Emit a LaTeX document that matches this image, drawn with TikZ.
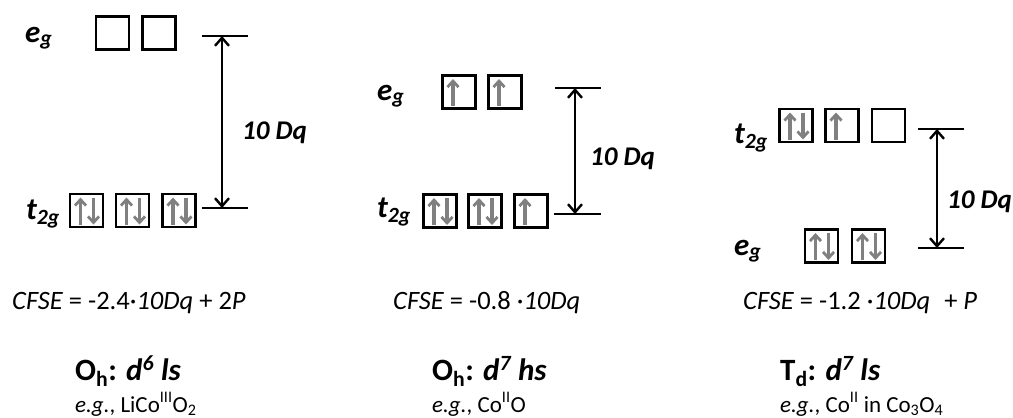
\documentclass[tikz,border=0pt]{standalone}
\usepackage{fontspec}
\setmainfont{Carlito}
\usetikzlibrary{arrows.meta}
\definecolor{spingray}{RGB}{128,128,128}
\newcommand{\fs}[1]{\fontsize{#1}{#1}\selectfont}
\tikzset{
  orbbox/.style={draw=black, line width=2.6pt, minimum width=33pt, minimum height=33pt, inner sep=0pt},
  spin/.style={draw=spingray, line width=3.4pt, -{Straight Barb[length=6pt,width=11pt,line width=2.8pt]}},
  level/.style={draw=black, line width=2.5pt},
  gap/.style={draw=black, line width=2.4pt, {Straight Barb[length=8pt,width=14pt,line width=2.4pt]}-{Straight Barb[length=8pt,width=14pt,line width=2.4pt]}},
  lvllabel/.style={anchor=base west, inner sep=0pt, font=\fs{31}\bfseries\itshape},
  dqlabel/.style={anchor=base west, inner sep=0pt, font=\fs{27}\bfseries\itshape},
  cfse/.style={anchor=base west, inner sep=0pt, font=\fs{26.5}},
  title/.style={anchor=base west, inner sep=0pt, font=\fs{31}\bfseries},
  example/.style={anchor=base west, inner sep=0pt, font=\fs{23}},
}
% \orbital{name}{x}{y}{electrons 0/1/2}
\newcommand{\orbital}[4]{%
  \node[orbbox] (#1) at (#2,#3) {};
  \ifnum#4=1
    \draw[spin] ([xshift=-6pt,yshift=-14pt]#1.center) -- ([xshift=-6pt,yshift=13pt]#1.center);
  \fi
  \ifnum#4=2
    \draw[spin] ([xshift=-6pt,yshift=-14pt]#1.center) -- ([xshift=-6pt,yshift=13pt]#1.center);
    \draw[spin] ([xshift=7pt,yshift=13pt]#1.center) -- ([xshift=7pt,yshift=-14pt]#1.center);
  \fi
}
\begin{document}
\begin{tikzpicture}[x=1pt,y=-1pt]
\useasboundingbox (0,0) rectangle (1013,418);

% ---------- Panel 1 ----------
\node[lvllabel] (eg1) at (25,42) {e\textsubscript{g}};
\node[lvllabel] (tg1) at (26,219) {t\textsubscript{2g}};
\orbital{a1}{112.5}{33}{0}
\orbital{a2}{159}{33}{0}
\orbital{a3}{86.5}{210.5}{2}
\orbital{a4}{132.5}{210.5}{2}
\orbital{a5}{179}{210.5}{2}
\coordinate (p1ul) at (202,36); \coordinate (p1ur) at (248,36);
\coordinate (p1ll) at (202,208); \coordinate (p1lr) at (248,208);
\coordinate (p1at) at (222,36); \coordinate (p1ab) at (222,208);
\draw[level] (p1ul) -- (p1ur);
\draw[level] (p1ll) -- (p1lr);
\draw[gap] (p1at) -- (p1ab);
\node[dqlabel] (dq1) at (242,139) {10 Dq};
\node[cfse] (cf1) at (12,309) {\textit{CFSE} = -2.4·\textit{10Dq} + 2\textit{P}};
\node[title] (t1) at (75,380) {O\textsubscript{h}: \textit{d\textsuperscript{6} ls}};
\node[example] (x1) at (75,412) {\textit{e.g.}, LiCo\textsuperscript{III}O\textsubscript{2}};

% ---------- Panel 2 ----------
\node[lvllabel] (eg2) at (377,100) {e\textsubscript{g}};
\node[lvllabel] (tg2) at (377,217) {t\textsubscript{2g}};
\orbital{b1}{459}{92}{1}
\orbital{b2}{505}{92}{1}
\orbital{b3}{440}{211}{2}
\orbital{b4}{485}{211}{2}
\orbital{b5}{531}{211}{1}
\coordinate (p2ul) at (555,88); \coordinate (p2ur) at (601,88);
\coordinate (p2ll) at (554,214); \coordinate (p2lr) at (601,214);
\coordinate (p2at) at (575,88); \coordinate (p2ab) at (575,214);
\draw[level] (p2ul) -- (p2ur);
\draw[level] (p2ll) -- (p2lr);
\draw[gap] (p2at) -- (p2ab);
\node[dqlabel] (dq2) at (590,165) {10 Dq};
\node[cfse] (cf2) at (393,309) {\textit{CFSE} = -0.8 ·\textit{10Dq}};
\node[title] (t2) at (432,380) {O\textsubscript{h}: \textit{d\textsuperscript{7} hs}};
\node[example] (x2) at (432,412) {\textit{e.g.}, Co\textsuperscript{II}O};

% ---------- Panel 3 ----------
\node[lvllabel] (tg3) at (734,143) {t\textsubscript{2g}};
\node[lvllabel] (eg3) at (734,255) {e\textsubscript{g}};
\orbital{c1}{796}{125.5}{2}
\orbital{c2}{842}{125.5}{1}
\orbital{c3}{888.5}{125.5}{0}
\orbital{c4}{821.5}{246}{2}
\orbital{c5}{868.5}{246}{2}
\coordinate (p3ul) at (918,129); \coordinate (p3ur) at (964,129);
\coordinate (p3ll) at (918,248); \coordinate (p3lr) at (964,248);
\coordinate (p3at) at (937,129); \coordinate (p3ab) at (937,248);
\draw[level] (p3ul) -- (p3ur);
\draw[level] (p3ll) -- (p3lr);
\draw[gap] (p3at) -- (p3ab);
\node[dqlabel] (dq3) at (947,208) {10 Dq};
\node[cfse] (cf3) at (743,309) {\textit{CFSE} = -1.2 ·\textit{10Dq}\hspace{0.3em} + \textit{P}};
\node[title] (t3) at (780,380) {T\textsubscript{d}: \textit{d\textsuperscript{7} ls}};
\node[example] (x3) at (780,412) {\textit{e.g.}, Co\textsuperscript{II} in Co\textsubscript{3}O\textsubscript{4}};
\end{tikzpicture}
\end{document}
